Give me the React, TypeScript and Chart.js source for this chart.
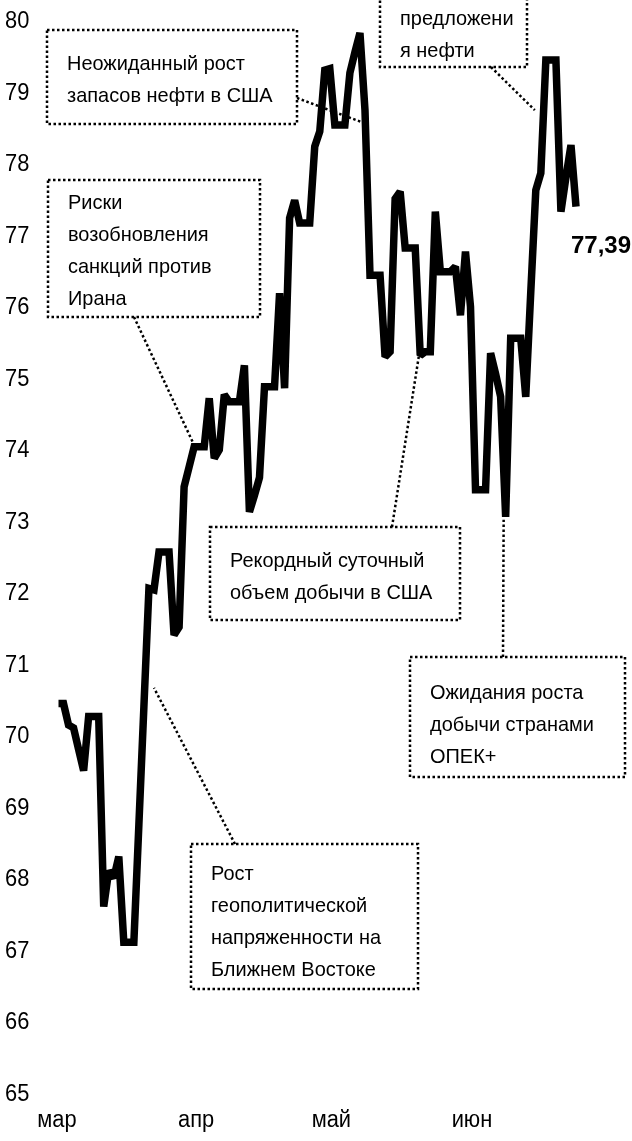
import React, { useEffect, useRef } from "react";
import { Chart, registerables } from "chart.js";

Chart.register(...registerables);

// ---- DATA ----
const prices: number[] = [
  70.44, 70.44, 70.14, 70.1, 69.8, 69.5, 70.26, 70.26, 70.26, 67.6,
  68.1, 68.0, 68.3, 67.1, 67.1, 67.1, 68.75, 70.4, 72.05, 72.03,
  72.56, 72.56, 72.56, 71.4, 71.51, 73.47, 73.75, 74.03, 74.03, 74.03,
  74.71, 73.87, 73.99, 74.76, 74.66, 74.66, 74.66, 75.17, 73.12, 73.35,
  73.6, 74.87, 74.87, 74.87, 76.18, 74.85, 77.23, 77.48, 77.16, 77.16,
  77.16, 78.23, 78.44, 79.3, 79.32, 78.53, 78.53, 78.53, 79.26, 79.55,
  79.82, 78.74, 76.43, 76.43, 76.43, 75.29, 75.36, 77.5, 77.6, 76.81,
  76.81, 76.81, 75.31, 75.36, 75.36, 77.32, 76.48, 76.48, 76.48, 76.55,
  75.87, 76.76, 75.99, 73.43, 73.43, 73.43, 75.34, 75.05, 74.73, 73.05,
  75.55, 75.55, 75.55, 74.73, 76.2, 77.62, 77.86, 79.44, 79.44, 79.44,
  77.32, 77.8, 78.25, 77.39,
];

const dayLabels: string[] = prices.map((_, i) => {
  const d = new Date(2018, 2, 3 + i);
  return `${d.getDate()}.${d.getMonth() + 1}`;
});

const yTicks: number[] = [65, 66, 67, 68, 69, 70, 71, 72, 73, 74, 75, 76, 77, 78, 79, 80];
const monthLabels: string[] = ["мар", "апр", "май", "июн"];
const monthPos: number[] = [-0.3, 27.4, 54.3, 82.3];
const lastLabel = "77,39";

type Note = {
  lines: string[];
  box: [number, number, number, number]; // x, y, w, h (px layout)
  base0: number; // first baseline (px)
  from: [number, number]; // leader start (px on box edge)
  to: [number, number]; // leader end in data space: [index, value]
};

const notes: Note[] = [
  { lines: ["Неожиданный рост", "запасов нефти в США"], box: [47, 30, 250, 94], base0: 70, from: [297, 98], to: [60.8, 78.56] },
  { lines: ["Риски", "возобновления", "санкций против", "Ирана"], box: [48, 180, 212, 137], base0: 209, from: [134, 317], to: [26.7, 74.1] },
  { lines: ["Рекордный суточный", "объем добычи в США"], box: [210, 527, 250, 93], base0: 567, from: [392, 527], to: [71.7, 75.29] },
  { lines: ["Ожидания роста", "добычи странами", "ОПЕК+"], box: [410, 657, 215, 120], base0: 699, from: [503, 657], to: [88.6, 73.01] },
  { lines: ["Рост", "геополитической", "напряженности на", "Ближнем Востоке"], box: [191, 844, 227, 145], base0: 880, from: [235, 844], to: [19.0, 70.66] },
  { lines: ["Сокращение", "предложени", "я нефти"], box: [380, -60, 147, 127], base0: -7, from: [491, 67], to: [94.8, 78.74] },
];

// ---- DRAW HELPERS ----
const FONT = '"Liberation Sans", Arial, Helvetica, sans-serif';
const SX = 0.95;

function txt(
  ctx: CanvasRenderingContext2D,
  s: string,
  x: number,
  y: number,
  size: number,
  sx: number,
  align: CanvasTextAlign = "left",
  bold = false
) {
  ctx.save();
  ctx.font = `${bold ? "bold " : ""}${size}px ${FONT}`;
  ctx.textAlign = align;
  ctx.textBaseline = "alphabetic";
  ctx.fillStyle = "#000";
  ctx.translate(x, y);
  ctx.scale(sx, 1);
  ctx.fillText(s, 0, 0);
  ctx.restore();
}

const overlay = {
  id: "overlay",
  beforeDatasetsDraw(chart: any) {
    chart.ctx.save();
    chart.ctx.miterLimit = 2;
  },
  afterDatasetsDraw(chart: any) {
    const { ctx } = chart;
    ctx.restore();
    const xs = chart.scales.x;
    const ys = chart.scales.y;

    // y tick labels
    yTicks.forEach((v) => txt(ctx, String(v), 5, ys.getPixelForValue(v) + 8, 23, SX));
    // month labels
    monthLabels.forEach((m, k) => txt(ctx, m, xs.getPixelForValue(monthPos[k]), 1127, 23, SX, "center"));

    // notes
    ctx.save();
    ctx.strokeStyle = "#000";
    ctx.lineWidth = 2.5;
    ctx.setLineDash([2.5, 2.5]);
    notes.forEach((n) => {
      const [bx, by, bw, bh] = n.box;
      ctx.strokeRect(bx, by, bw, bh);
      const tx = xs.getPixelForValue(n.to[0]);
      const ty = ys.getPixelForValue(n.to[1]);
      ctx.beginPath();
      ctx.moveTo(n.from[0], n.from[1]);
      ctx.lineTo(tx, ty);
      ctx.stroke();
    });
    ctx.restore();
    notes.forEach((n) => {
      n.lines.forEach((l, k) => txt(ctx, l, n.box[0] + 20, n.base0 + k * 32, 21, SX));
    });

    // last value label
    const li = prices.length - 1;
    const lx = xs.getPixelForValue(li);
    const ly = ys.getPixelForValue(prices[li]);
    txt(ctx, lastLabel, lx - 5, ly + 46, 24, 1.0, "left", true);
  },
};

export default function App() {
  const ref = useRef<HTMLCanvasElement | null>(null);

  useEffect(() => {
    if (!ref.current) return;
    const chart = new Chart(ref.current, {
      type: "line",
      data: {
        labels: dayLabels,
        datasets: [
          {
            data: prices,
            borderColor: "#000",
            borderWidth: 7.5,
            pointRadius: 0,
            tension: 0,
            fill: false,
            borderJoinStyle: "miter",
            borderCapStyle: "butt",
            clip: false as any,
          },
        ],
      },
      options: {
        responsive: false,
        maintainAspectRatio: false,
        devicePixelRatio: 1,
        animation: false,
        layout: { padding: { left: 58.5, right: 56, top: 20, bottom: 48.5 } },
        plugins: { legend: { display: false }, tooltip: { enabled: false }, title: { display: false } },
        scales: {
          x: { type: "category", display: false, offset: false },
          y: { type: "linear", display: false, min: 65, max: 80 },
        },
      },
      plugins: [overlay],
    });
    return () => chart.destroy();
  }, []);

  return (
    <div style={{ position: "fixed", left: 0, top: 0, width: 632, height: 1141, background: "#fff" }}>
      <canvas ref={ref} width={632} height={1141} style={{ display: "block", width: 632, height: 1141 }} />
    </div>
  );
}
